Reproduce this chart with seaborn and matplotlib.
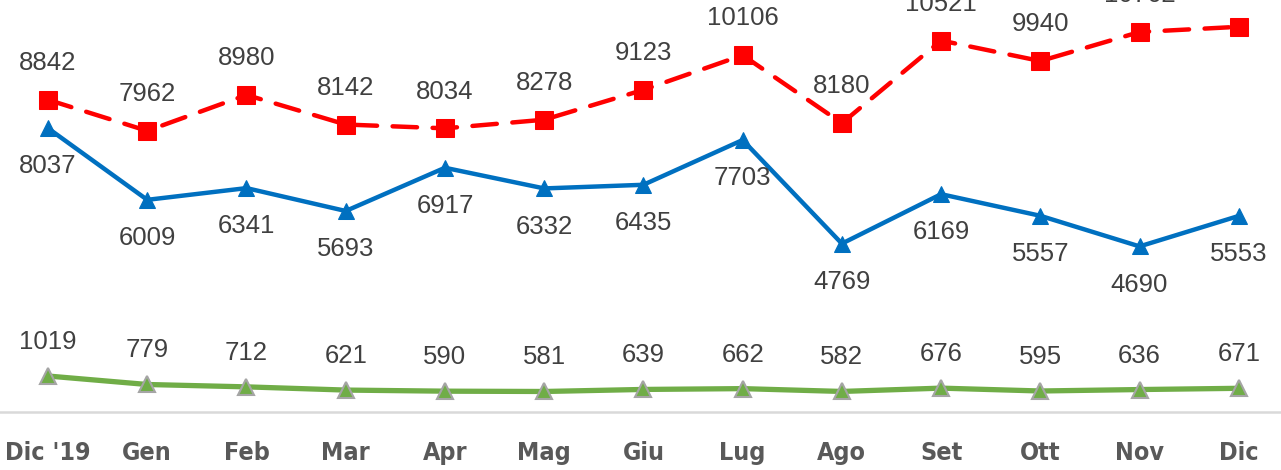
import matplotlib
matplotlib.use("Agg")
import matplotlib.pyplot as plt
import seaborn as sns
import pandas as pd

months = ["Dic '19", "Gen", "Feb", "Mar", "Apr", "Mag", "Giu", "Lug", "Ago", "Set", "Ott", "Nov", "Dic"]
red_values = [8842, 7962, 8980, 8142, 8034, 8278, 9123, 10106, 8180, 10521, 9940, 10762, 10910]
blue_values = [8037, 6009, 6341, 5693, 6917, 6332, 6435, 7703, 4769, 6169, 5557, 4690, 5553]
green_values = [1019, 779, 712, 621, 590, 581, 639, 662, 582, 676, 595, 636, 671]

sns.set_theme(style="white")
plt.rcParams['font.family'] = ['Liberation Sans', 'DejaVu Sans']

fig = plt.figure(figsize=(12.81, 4.70), dpi=100)
ax = fig.add_axes([-1.6 / 1281, (470 - 412) / 470, 1290 / 1281, 423.7 / 470])

x = list(range(len(months)))
df_red = pd.DataFrame({"x": x, "y": red_values})
df_blue = pd.DataFrame({"x": x, "y": blue_values})
df_green = pd.DataFrame({"x": x, "y": green_values})

sns.lineplot(data=df_green, x="x", y="y", ax=ax, color="#70AD47", linewidth=3.8,
             marker="^", markersize=11, markerfacecolor="#70AD47",
             markeredgecolor="#A5A5A5", markeredgewidth=1.5, zorder=3)
sns.lineplot(data=df_blue, x="x", y="y", ax=ax, color="#0070C0", linewidth=3.2,
             marker="^", markersize=11, markerfacecolor="#0070C0",
             markeredgecolor="#0070C0", zorder=3)
sns.lineplot(data=df_red, x="x", y="y", ax=ax, color="#FF0000", linewidth=3.2,
             marker="s", markersize=13, markerfacecolor="#FF0000",
             markeredgecolor="#FF0000", zorder=4)
ax.lines[-1].set_linestyle((0, (5.5, 3.5)))
ax.lines[-1].set_dash_capstyle("round")

lab_kw = dict(textcoords="offset points", ha="center", va="center",
              fontsize=18.5, color="#404040", annotation_clip=False)
for i, v in enumerate(red_values):
    ax.annotate(f"{v}", (i, v), xytext=(0, 26.5), **lab_kw)
for i, v in enumerate(blue_values):
    ax.annotate(f"{v}", (i, v), xytext=(0, -27.5), **lab_kw)
for i, v in enumerate(green_values):
    ax.annotate(f"{v}", (i, v), xytext=(0, 24.5), **lab_kw)

ax.set_xlim(-0.5, 12.5)
ax.set_ylim(0, 12000)
ax.set_xticks(x)
ax.set_xticklabels(months, fontsize=18, fontweight="bold", color="#595959",
                   family=['DejaVu Sans'], fontstretch="condensed")
ax.tick_params(axis="x", length=0, pad=21)
ax.set_yticks([])
ax.set_xlabel("")
ax.set_ylabel("")
for s in ["top", "right", "left"]:
    ax.spines[s].set_visible(False)
ax.spines["bottom"].set_color("#D9D9D9")
ax.spines["bottom"].set_linewidth(1.8)
ax.grid(False)

fig.savefig("out.png", dpi=100)
